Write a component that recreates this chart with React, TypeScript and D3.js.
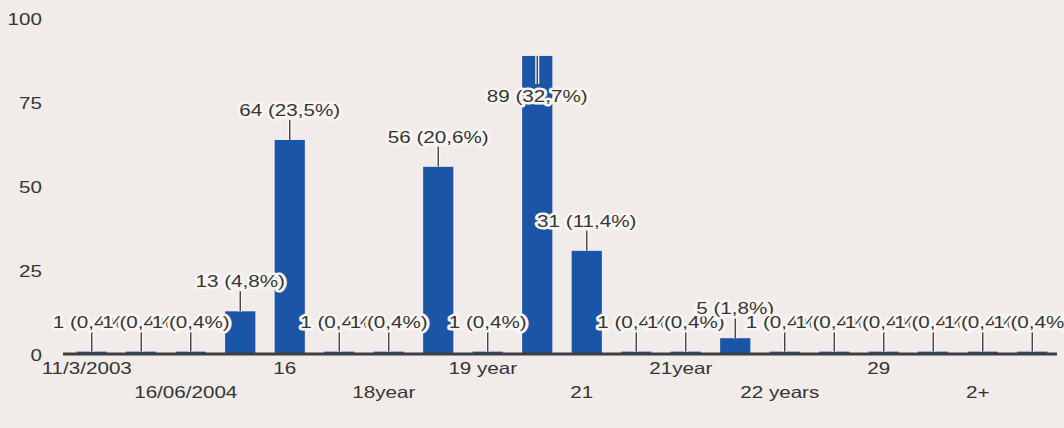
import * as d3 from 'd3';

// categories along the x axis; null = label not printed under the axis
const categories: (string | null)[] = [
  '11/3/2003', null, '16/06/2004', null, '16', null, '18year', null, '19 year', null,
  '21', null, '21year', null, '22 years', null, '29', null, '2+', null,
];
const counts = [1, 1, 1, 13, 64, 1, 1, 56, 1, 89, 31, 1, 1, 5, 1, 1, 1, 1, 1, 1];
const yTicks = [0, 25, 50, 75, 100];

const W = 1064;
const H = 428;
const BG = '#f1ebe9';
const BAR = '#1b55a8';
const INK = '#353535';
const HALO = '#f8f5f3';
const SX = 1.25; // the scanned text is stretched sideways

function Txt({ x, y, anchor = 'middle', halo = false, children }: {
  x: number; y: number; anchor?: string; halo?: boolean; children: any;
}) {
  return (
    <text
      transform={`translate(${x},${y}) scale(${SX},1)`}
      textAnchor={anchor}
      fontFamily="'Liberation Sans', Arial, sans-serif"
      fontSize={16.5}
      fill={INK}
      stroke={halo ? HALO : 'none'}
      strokeWidth={halo ? 5 : 0}
      strokeLinejoin="round"
      paintOrder="stroke"
    >
      {children}
    </text>
  );
}

export default function App() {
  const total = d3.sum(counts);
  const idx = counts.map((_, i) => String(i));

  const x = d3.scaleBand<string>()
    .domain(idx)
    .range([67, 1057])
    .paddingInner(0.39)
    .paddingOuter(0.195);

  const y = d3.scaleLinear().domain([0, 100]).range([355, 19]);

  const fmt = (v: number) => `${v} (${(v / total * 100).toFixed(1).replace('.', ',')}%)`;

  return (
    <svg width={W} height={H} style={{ position: 'absolute', left: 0, top: 0, display: 'block' }}>
      <rect width={W} height={H} fill={BG} />

      {/* y axis labels */}
      {yTicks.map(t => (
        <Txt key={t} x={42} y={y(t) + 6} anchor="end">{t}</Txt>
      ))}

      {/* bars */}
      {counts.map((v, i) => (
        <rect
          key={i}
          x={x(String(i))}
          y={y(v)}
          width={x.bandwidth()}
          height={y(0) - y(v)}
          fill={BAR}
        />
      ))}

      {/* baseline */}
      <line x1={63} x2={1057} y1={y(0) - 1} y2={y(0) - 1} stroke="#3e3e3e" strokeWidth={3} />

      {/* value labels with leader lines */}
      {counts.map((v, i) => {
        const cx = (x(String(i)) ?? 0) + x.bandwidth() / 2;
        const top = y(v);
        const inside = top - 30 < y(100) + 20;
        const l2 = inside ? top + 28 : top - 20;
        const base = inside ? top + 46 : top - 24;
        return (
          <g key={i}>
            <line x1={cx} x2={cx} y1={top} y2={l2} stroke={HALO} strokeWidth={4} />
            <line x1={cx} x2={cx} y1={top} y2={l2} stroke={INK} strokeWidth={1.3} />
            <Txt x={cx} y={base} halo>{fmt(v)}</Txt>
          </g>
        );
      })}

      {/* x axis labels, alternating rows */}
      {categories.map((c, i) => {
        if (c == null) return null;
        const cx = (x(String(i)) ?? 0) + x.bandwidth() / 2 - 5;
        const row = (i / 2) % 2;
        return <Txt key={i} x={cx} y={row === 0 ? 374 : 398}>{c}</Txt>;
      })}
    </svg>
  );
}
